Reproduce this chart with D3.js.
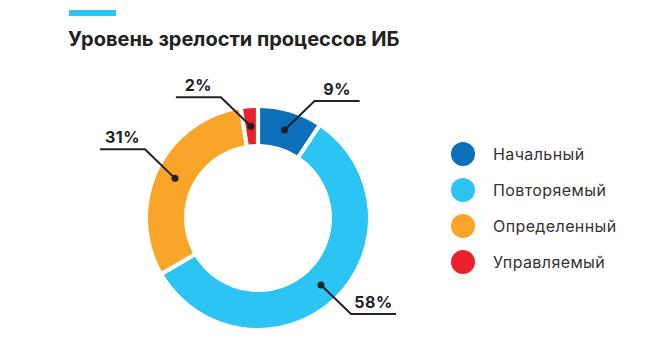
<!DOCTYPE html>
<html>
<head>
<meta charset="utf-8">
<script src="https://cdn.jsdelivr.net/npm/d3@7"></script>
<style>
    body { margin: 0; background: #fff; }
    svg { display: block; font-family: Inter, "Noto Sans", sans-serif; }
</style>
</head>
<body>
<svg id="chart" width="650" height="351"></svg>
<script>
var categories = ["Начальный", "Повторяемый", "Определенный", "Управляемый"]
var values = [9, 58, 31, 2]
var colors = ["#0b6fba", "#2cc4f3", "#f8a529", "#e8212b"]
var title = "Уровень зрелости процессов ИБ"

var svg = d3.select("#chart")

var dimensions = {
    cx: 258,
    cy: 218,
    outer: 110,
    inner: 74
}

// accent bar + title
svg.append("rect")
    .attr("x", 69).attr("y", 10)
    .attr("width", 47).attr("height", 6)
    .attr("fill", "#2cc4f3")

svg.append("text")
    .attr("x", 68).attr("y", 46)
    .attr("font-size", 20)
    .attr("font-weight", 700)
    .attr("fill", "#222")
    .text(title)

var data = categories.map((c, i) => ({name: c, value: values[i], color: colors[i]}))

var pie = d3.pie()
    .value(d => d.value)
    .sort(null)
    .padAngle(0.032)

var arcGen = d3.arc()
    .innerRadius(dimensions.inner)
    .outerRadius(dimensions.outer)

var arcs = pie(data)

var g = svg.append("g")
    .attr("transform", `translate(${dimensions.cx},${dimensions.cy})`)

g.selectAll(".slice")
    .data(arcs)
    .enter()
    .append("path")
    .attr("class", "slice")
    .attr("d", arcGen)
    .attr("fill", d => d.data.color)

// leader lines with labels
arcs.forEach(d => {
    var c = arcGen.centroid(d)
    var sx = c[0] < 0 ? -1 : 1
    var sy = c[1] < 0 ? -1 : 1
    var elbow = [c[0] + sx * 30, c[1] + sy * 29]
    var end = [elbow[0] + sx * 45, elbow[1]]

    g.append("polyline")
        .attr("points", [c, elbow, end].map(p => p.join(",")).join(" "))
        .attr("fill", "none")
        .attr("stroke", "#222")
        .attr("stroke-width", 2)

    g.append("circle")
        .attr("cx", c[0]).attr("cy", c[1])
        .attr("r", 3.5)
        .attr("fill", "#222")

    g.append("text")
        .attr("x", (elbow[0] + end[0]) / 2)
        .attr("y", elbow[1] - 6)
        .attr("text-anchor", "middle")
        .attr("font-size", 16)
        .attr("font-weight", 700)
        .attr("letter-spacing", 0.5)
        .attr("fill", "#222")
        .text(d.data.value + "%")
})

// legend
var legend = svg.append("g")
    .selectAll(".legend-item")
    .data(data)
    .enter()
    .append("g")
    .attr("class", "legend-item")
    .attr("transform", (d, i) => `translate(463,${154 + i * 36})`)

legend.append("circle")
    .attr("r", 12)
    .attr("fill", d => d.color)

legend.append("text")
    .attr("x", 30)
    .attr("y", 5.5)
    .attr("font-size", 16)
    .attr("letter-spacing", 0.4)
    .attr("fill", "#333")
    .text(d => d.name)
</script>
</body>
</html>
